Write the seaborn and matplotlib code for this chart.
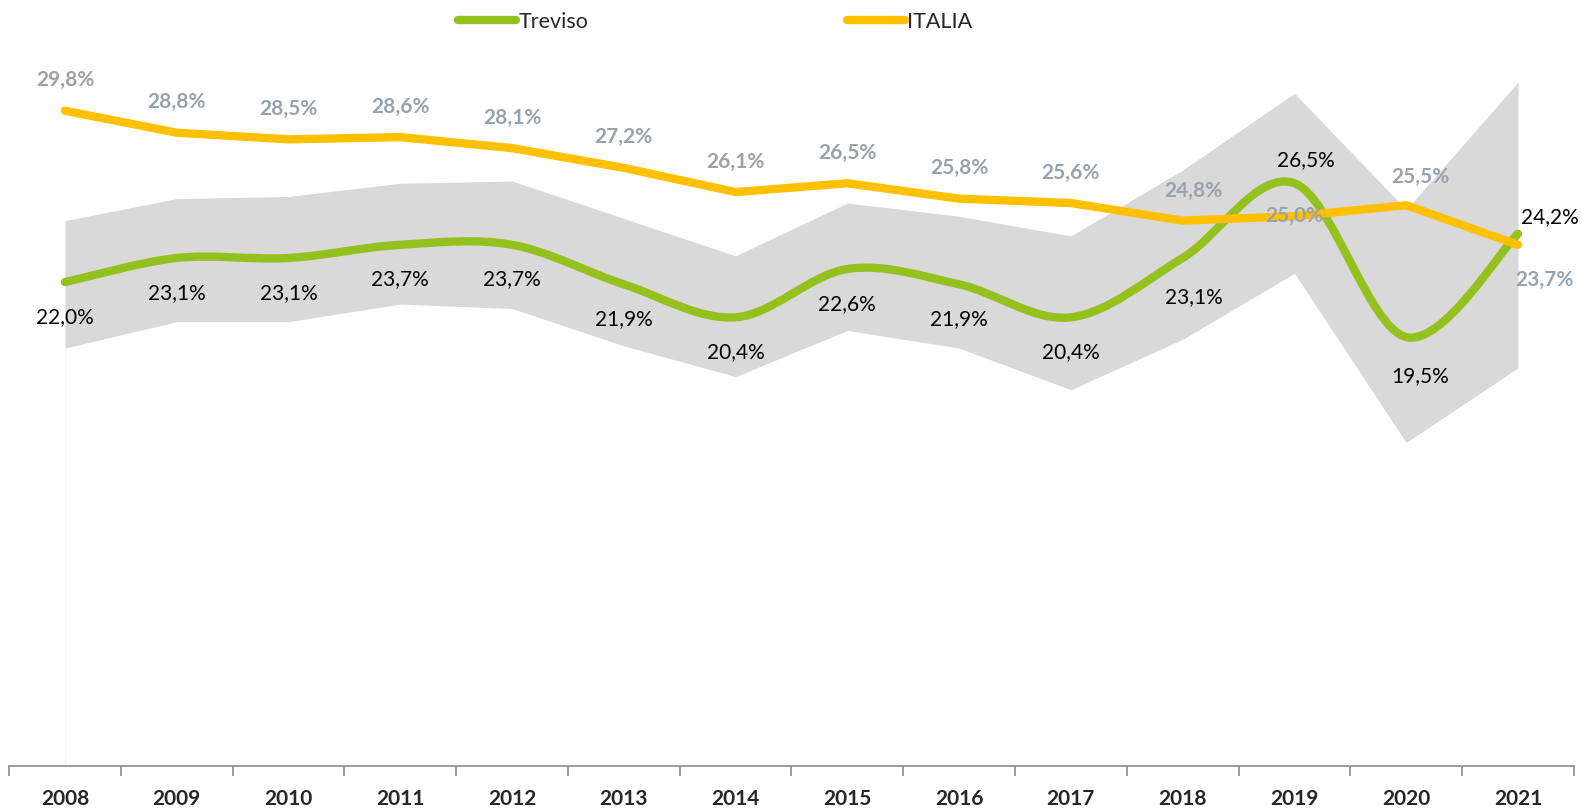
import numpy as np
import pandas as pd
import matplotlib.pyplot as plt
import seaborn as sns
from matplotlib.path import Path
from matplotlib.patches import PathPatch
from matplotlib.lines import Line2D

sns.set_style("white")
plt.rcParams["font.family"] = ["Lato", "DejaVu Sans"]

# data
years = ["2008", "2009", "2010", "2011", "2012", "2013", "2014",
         "2015", "2016", "2017", "2018", "2019", "2020", "2021"]
treviso = [22.0, 23.1, 23.1, 23.7, 23.7, 21.9, 20.4, 22.6, 21.9, 20.4, 23.1, 26.5, 19.5, 24.2]
italia = [29.8, 28.8, 28.5, 28.6, 28.1, 27.2, 26.1, 26.5, 25.8, 25.6, 24.8, 25.0, 25.5, 23.7]
band_low = [19.0, 20.2, 20.2, 21.0, 20.8, 19.1, 17.7, 19.8, 19.0, 17.1, 19.4, 22.4, 14.7, 18.1]
band_high = [24.8, 25.8, 25.9, 26.5, 26.6, 24.9, 23.2, 25.6, 25.0, 24.1, 27.1, 30.6, 25.3, 31.1]

GREEN = "#95C11F"
ORANGE = "#FFC000"
BAND = "#D9D9D9"
LABEL_GREY = "#97A3AC"

df = pd.DataFrame({"x": np.arange(len(years)), "year": years,
                   "Treviso": treviso, "ITALIA": italia,
                   "low": band_low, "high": band_high})

fig = plt.figure(figsize=(15.85, 8.09), dpi=100)
ax = fig.add_axes([9 / 1568, 43 / 800, 1548 / 1568, 717 / 800])

# grey band
ax.fill_between(df["x"], df["low"], df["high"], color=BAND, lw=0, zorder=1)
ax.vlines(0, 0, band_low[0], color="#F4F4F4", lw=1, zorder=0)

# smoothed Treviso line (Catmull-Rom style bezier, like Excel smoothing)
pts = np.column_stack([df["x"].values, df["Treviso"].values]).astype(float)
verts = [pts[0]]
codes = [Path.MOVETO]
n = len(pts)
for i in range(n - 1):
    p0 = pts[max(i - 1, 0)]
    p1 = pts[i]
    p2 = pts[i + 1]
    p3 = pts[min(i + 2, n - 1)]
    c1 = p1 + (p2 - p0) / 6.0
    c2 = p2 - (p3 - p1) / 6.0
    verts += [c1, c2, p2]
    codes += [Path.CURVE4] * 3
patch = PathPatch(Path(verts, codes), facecolor="none", edgecolor=GREEN,
                  lw=6, capstyle="round", joinstyle="round", zorder=3)
ax.add_patch(patch)

# ITALIA line
sns.lineplot(data=df, x="x", y="ITALIA", color=ORANGE, lw=6, ax=ax,
             zorder=4, solid_capstyle="round", solid_joinstyle="round")

# data labels
it_off = {11: (0, 0), 12: (10, 20), 13: (19, -25), 10: (8, 21)}
for i, v in enumerate(italia):
    dx, dy = it_off.get(i, (0, 22))
    ax.annotate(f"{v:.1f}%".replace(".", ","), (i, v), xytext=(dx, dy),
                textcoords="offset points", ha="center", va="center",
                fontsize=15, fontweight="bold", color=LABEL_GREY, zorder=5)

tv_off = {10: (8, -28), 11: (8, 17), 12: (10, -28), 13: (23, 12)}
for i, v in enumerate(treviso):
    dx, dy = tv_off.get(i, (0, -25))
    ax.annotate(f"{v:.1f}%".replace(".", ","), (i, v), xytext=(dx, dy),
                textcoords="offset points", ha="center", va="center",
                fontsize=15, color="black", zorder=5)

# axes
ax.set_xlim(-0.5, len(years) - 0.5)
ax.set_ylim(0, 33)
ax.set_yticks([])
ax.set_xlabel("")
ax.set_ylabel("")
ax.set_xticks(df["x"])
ax.set_xticklabels(years, fontsize=15, fontweight="bold")
ax.set_xticks(np.arange(-0.5, len(years)), minor=True)
ax.tick_params(axis="x", which="major", length=0, pad=17)
ax.tick_params(axis="x", which="minor", length=7, width=1.2, color="#8C8C8C",
               direction="out", bottom=True)
for s in ["top", "right", "left"]:
    ax.spines[s].set_visible(False)
ax.spines["bottom"].set_color("#8C8C8C")
ax.spines["bottom"].set_linewidth(1.2)
ax.patch.set_alpha(0)

handles = [Line2D([], [], color=GREEN, lw=6, solid_capstyle="round"),
           Line2D([], [], color=ORANGE, lw=6, solid_capstyle="round")]
fig.legend(handles, ["Treviso", "ITALIA"], loc="center",
           bbox_to_anchor=(715 / 1585, 1 - 22 / 809), ncol=2, frameon=False,
           fontsize=15.5, handlelength=2.7, handletextpad=0.1, columnspacing=12)

fig.savefig("out.png", dpi=100)
